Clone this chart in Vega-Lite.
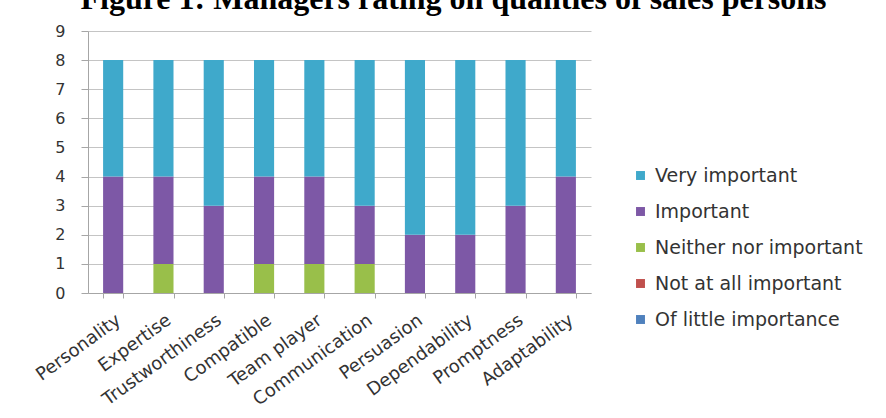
{
  "$schema": "https://vega.github.io/schema/vega-lite/v6.json",
  "width": 503,
  "height": 262,
  "autosize": {"type": "none"},
  "padding": {"left": 88, "top": 31, "right": 295, "bottom": 125},
  "background": "white",
  "title": {
    "text": "Figure 1: Managers rating on qualities of sales persons",
    "font": "Liberation Serif",
    "fontSize": 32,
    "fontWeight": "bold",
    "color": "black",
    "anchor": "middle",
    "baseline": "alphabetic",
    "offset": 0,
    "dx": 114,
    "dy": 18
  },
  "data": {
    "values": [
      {"quality": "Personality", "rating": "Important", "series": 4, "count": 4},
      {"quality": "Personality", "rating": "Very important", "series": 5, "count": 4},
      {"quality": "Expertise", "rating": "Neither nor important", "series": 3, "count": 1},
      {"quality": "Expertise", "rating": "Important", "series": 4, "count": 3},
      {"quality": "Expertise", "rating": "Very important", "series": 5, "count": 4},
      {"quality": "Trustworthiness", "rating": "Important", "series": 4, "count": 3},
      {"quality": "Trustworthiness", "rating": "Very important", "series": 5, "count": 5},
      {"quality": "Compatible", "rating": "Neither nor important", "series": 3, "count": 1},
      {"quality": "Compatible", "rating": "Important", "series": 4, "count": 3},
      {"quality": "Compatible", "rating": "Very important", "series": 5, "count": 4},
      {"quality": "Team player", "rating": "Neither nor important", "series": 3, "count": 1},
      {"quality": "Team player", "rating": "Important", "series": 4, "count": 3},
      {"quality": "Team player", "rating": "Very important", "series": 5, "count": 4},
      {"quality": "Communication", "rating": "Neither nor important", "series": 3, "count": 1},
      {"quality": "Communication", "rating": "Important", "series": 4, "count": 2},
      {"quality": "Communication", "rating": "Very important", "series": 5, "count": 5},
      {"quality": "Persuasion", "rating": "Important", "series": 4, "count": 2},
      {"quality": "Persuasion", "rating": "Very important", "series": 5, "count": 6},
      {"quality": "Dependability", "rating": "Important", "series": 4, "count": 2},
      {"quality": "Dependability", "rating": "Very important", "series": 5, "count": 6},
      {"quality": "Promptness", "rating": "Important", "series": 4, "count": 3},
      {"quality": "Promptness", "rating": "Very important", "series": 5, "count": 5},
      {"quality": "Adaptability", "rating": "Important", "series": 4, "count": 4},
      {"quality": "Adaptability", "rating": "Very important", "series": 5, "count": 4}
    ]
  },
  "mark": {"type": "bar"},
  "encoding": {
    "x": {
      "field": "quality",
      "type": "nominal",
      "sort": ["Personality", "Expertise", "Trustworthiness", "Compatible", "Team player", "Communication", "Persuasion", "Dependability", "Promptness", "Adaptability"],
      "scale": {"paddingInner": 0.6, "paddingOuter": 0.3},
      "axis": {
        "title": null,
        "labelAngle": -36,
        "labelFont": "DejaVu Sans",
        "labelFontSize": 18,
        "labelColor": "#333333",
        "labelPadding": 13,
        "labelLimit": 300,
        "tickBand": "extent",
        "tickSize": 5,
        "tickColor": "#a6a6a6",
        "domainColor": "#a6a6a6",
        "grid": false
      }
    },
    "y": {
      "field": "count",
      "type": "quantitative",
      "stack": "zero",
      "scale": {"domain": [0, 9], "nice": false},
      "axis": {
        "title": null,
        "values": [0, 1, 2, 3, 4, 5, 6, 7, 8, 9],
        "grid": true,
        "gridColor": "#c4c4c4",
        "tickColor": "#a6a6a6",
        "tickSize": 7,
        "domainColor": "#a6a6a6",
        "labelFont": "DejaVu Sans",
        "labelFontSize": 16,
        "labelColor": "#333333",
        "labelPadding": 16
      }
    },
    "color": {
      "field": "rating",
      "type": "nominal",
      "scale": {
        "domain": ["Very important", "Important", "Neither nor important", "Not at all important", "Of little importance"],
        "range": ["#3fa9cb", "#7d58a6", "#99bf4a", "#c0504d", "#4f81bd"]
      },
      "legend": {
        "title": null,
        "orient": "none",
        "legendX": 543,
        "legendY": 135,
        "symbolType": "square",
        "symbolSize": 80,
        "symbolStrokeWidth": 0,
        "labelFont": "DejaVu Sans",
        "labelFontSize": 19,
        "labelColor": "#333333",
        "labelOffset": 5,
        "labelLimit": 400,
        "rowPadding": 16
      }
    },
    "order": {"field": "series", "type": "quantitative"}
  },
  "config": {
    "view": {"stroke": null}
  }
}
